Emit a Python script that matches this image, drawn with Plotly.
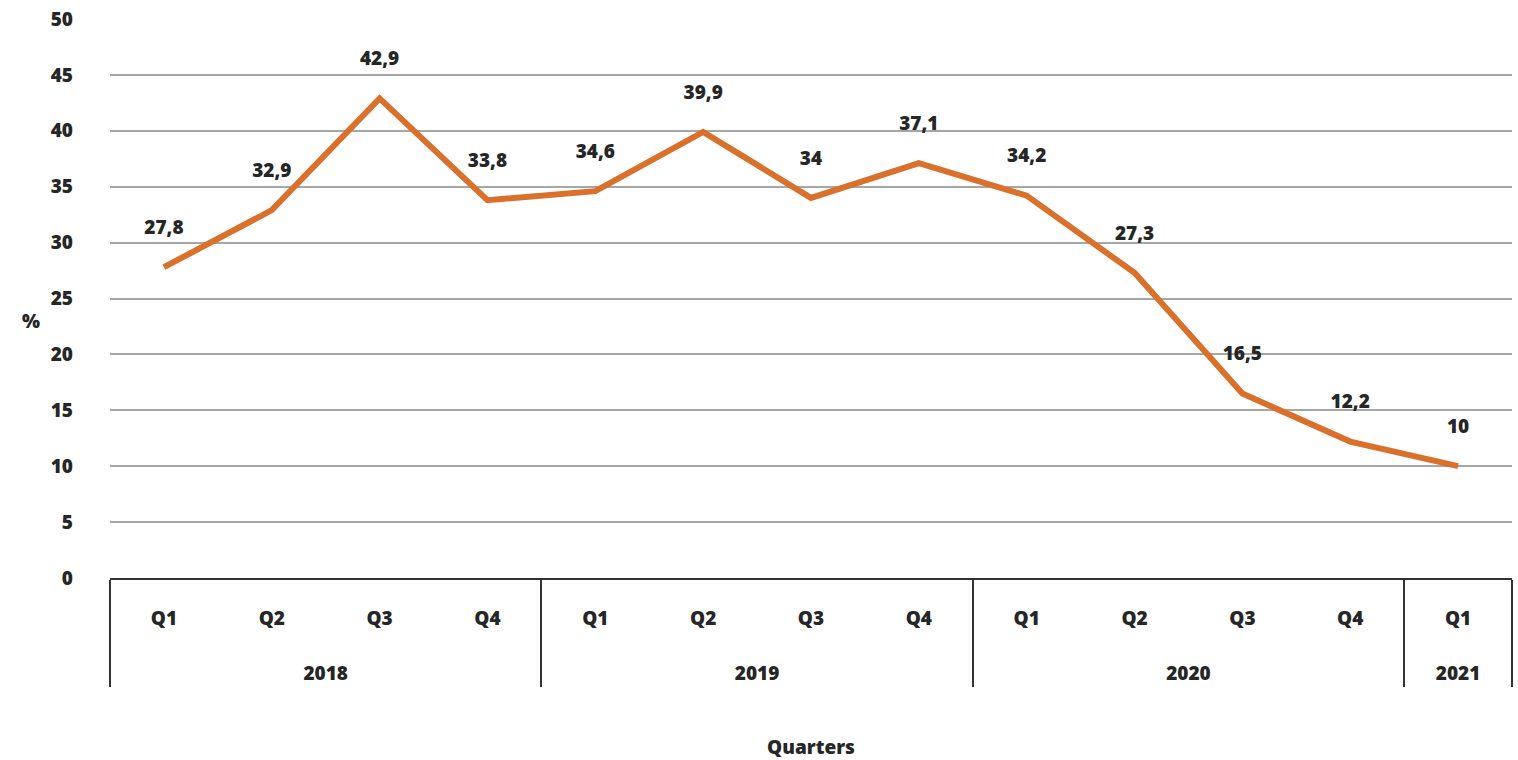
import plotly.graph_objects as go

years = ["2018"] * 4 + ["2019"] * 4 + ["2020"] * 4 + ["2021"]
quarters = ["Q1", "Q2", "Q3", "Q4", "Q1", "Q2", "Q3", "Q4", "Q1", "Q2", "Q3", "Q4", "Q1"]
values = [27.8, 32.9, 42.9, 33.8, 34.6, 39.9, 34, 37.1, 34.2, 27.3, 16.5, 12.2, 10]
labels = [str(v).replace(".", ",") for v in values]

FONT = "Open Sans"
DARK = "#262626"
W = 800
FS = 19

# blank trailing lines give room between the quarter row and the year row
qlab = [q + "<br>\u00a0<br>\u00a0" for q in quarters]

fig = go.Figure()
fig.add_trace(go.Scatter(
    x=[years, qlab], y=values, mode="lines",
    line=dict(color="#D9702B", width=6), hoverinfo="skip", showlegend=False,
))
fig.add_trace(go.Scatter(
    x=[years, qlab], y=values, mode="markers+text",
    marker=dict(size=44, color="rgba(0,0,0,0)"),
    text=labels, textposition="top center",
    textfont=dict(family=FONT, size=FS, color=DARK, weight=W),
    hoverinfo="skip", showlegend=False, cliponaxis=False,
))

fig.update_layout(
    width=1518, height=760,
    margin=dict(l=110, r=6, t=17, b=180),
    plot_bgcolor="white", paper_bgcolor="white",
    font=dict(family=FONT, color=DARK),
    xaxis=dict(
        type="multicategory", range=[-0.5, 12.5],
        showline=True, linecolor="#333333", linewidth=2,
        showgrid=False,
        showdividers=True, dividercolor="#333333", dividerwidth=2,
        tickfont=dict(family=FONT, size=FS, color=DARK, weight=W),
        ticks="", ticklabelstandoff=22,
        title=dict(text="Quarters", font=dict(family=FONT, size=FS, color=DARK, weight=W), standoff=55),
    ),
    yaxis=dict(
        range=[0, 50], dtick=5, tick0=0,
        showgrid=True, gridcolor="#A6A6A6", gridwidth=2,
        zeroline=False, showline=False,
        tickfont=dict(family=FONT, size=FS, color=DARK, weight=W),
        ticklabelstandoff=36,
    ),
    annotations=[dict(
        text="%", xref="paper", yref="paper", x=-0.064, y=0.46,
        showarrow=False, font=dict(family=FONT, size=FS, color=DARK, weight=W),
    )],
)
fig.write_html("out.html")
